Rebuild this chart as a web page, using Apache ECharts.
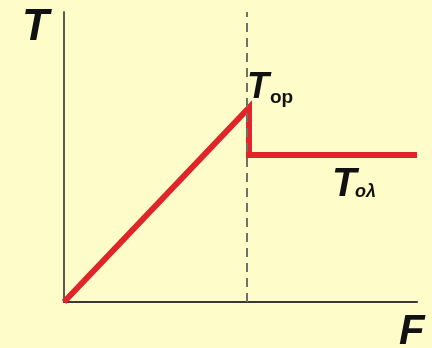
<!DOCTYPE html>
<html>
<head>
<meta charset="utf-8">
<script src="https://cdn.jsdelivr.net/npm/echarts@6/dist/echarts.min.js"></script>
<style>
  html, body { margin: 0; padding: 0; background: #fefcc8; }
  #main { width: 432px; height: 348px; }
</style>
</head>
<body>
<div id="main"></div>
<script>
// force F (arbitrary units) vs tension T
var forceF = [0, 52.4, 52.4, 100];
var tensionT = [0, 67, 50.7, 50.7];
var breakF = 51.8;

var chartDom = document.getElementById('main');
var myChart = echarts.init(chartDom);

var labelFont = 'Liberation Sans';

function letter(text, left, top, size, italic, bold) {
    return {
        type: 'text', left: left, top: top,
        style: {
            text: text, fontSize: size,
            fontStyle: italic ? 'italic' : 'normal',
            fontWeight: bold ? 'bold' : 'normal',
            fontFamily: labelFont, fill: '#111'
        }
    };
}

var option = {
    backgroundColor: '#fefcc8',
    animation: false,
    grid: { left: 64, right: 15, top: 12, bottom: 46 },
    xAxis: {
        type: 'value', min: 0, max: 100,
        axisLine: { lineStyle: { color: '#3a3a32', width: 2 } },
        axisTick: { show: false },
        axisLabel: { show: false },
        splitLine: { show: false }
    },
    yAxis: {
        type: 'value', min: 0, max: 100,
        axisLine: { show: true, lineStyle: { color: '#5a5a50', width: 2 } },
        axisTick: { show: false },
        axisLabel: { show: false },
        splitLine: { show: false }
    },
    series: [{
        type: 'line',
        data: forceF.map(function (f, i) { return [f, tensionT[i]]; }),
        symbol: 'none',
        lineStyle: { color: '#e0252a', width: 6, join: 'miter' },
        z: 3,
        markLine: {
            silent: true,
            symbol: 'none',
            label: { show: false },
            lineStyle: { color: '#707068', type: [9, 6], width: 2 },
            data: [{ xAxis: breakF }]
        }
    }],
    graphic: [
        letter('T', 22, 6, 44, true, true),
        letter('F', 399, 311, 42, true, true),
        letter('T', 247, 70, 36, true, true),
        letter('op', 270, 88, 19, false, true),
        letter('T', 332, 165, 40, true, true),
        letter('oλ', 355, 183, 18, true, true)
    ]
};

option && myChart.setOption(option);
</script>
</body>
</html>
